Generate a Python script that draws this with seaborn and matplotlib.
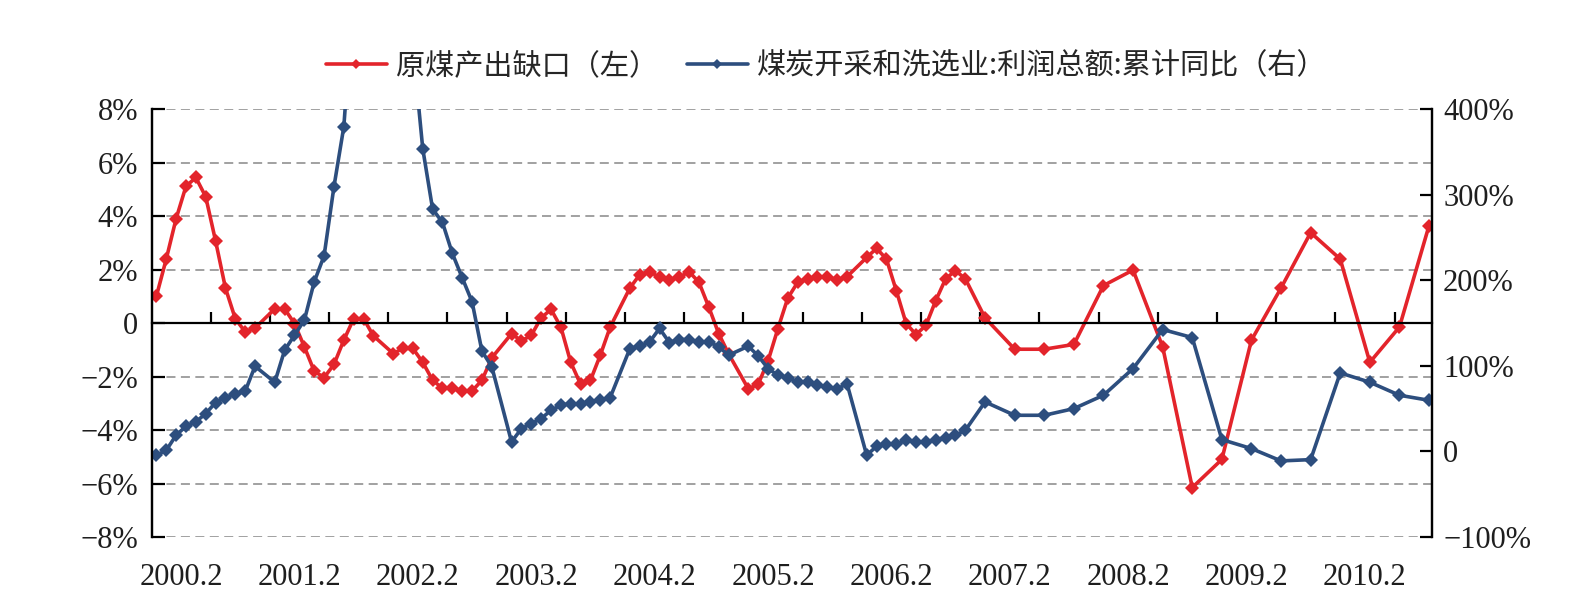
import numpy as np
import pandas as pd
import matplotlib
matplotlib.use("Agg")
import matplotlib.pyplot as plt
import seaborn as sns

# periods: monthly (no January) 2000-2006, quarterly 2007-2010
periods = [
    "2000.2", "2000.3", "2000.4", "2000.5", "2000.6", "2000.7", "2000.8", "2000.9", "2000.10", "2000.11", "2000.12",
    "2001.2", "2001.3", "2001.4", "2001.5", "2001.6", "2001.7", "2001.8", "2001.9", "2001.10", "2001.11", "2001.12",
    "2002.2", "2002.3", "2002.4", "2002.5", "2002.6", "2002.7", "2002.8", "2002.9", "2002.10", "2002.11", "2002.12",
    "2003.2", "2003.3", "2003.4", "2003.5", "2003.6", "2003.7", "2003.8", "2003.9", "2003.10", "2003.11", "2003.12",
    "2004.2", "2004.3", "2004.4", "2004.5", "2004.6", "2004.7", "2004.8", "2004.9", "2004.10", "2004.11", "2004.12",
    "2005.2", "2005.3", "2005.4", "2005.5", "2005.6", "2005.7", "2005.8", "2005.9", "2005.10", "2005.11", "2005.12",
    "2006.2", "2006.3", "2006.4", "2006.5", "2006.6", "2006.7", "2006.8", "2006.9", "2006.10", "2006.11", "2006.12",
    "2007.2", "2007.5", "2007.8", "2007.11",
    "2008.2", "2008.5", "2008.8", "2008.11",
    "2009.2", "2009.5", "2009.8", "2009.11",
    "2010.2", "2010.5", "2010.8", "2010.11",
]

# 原煤产出缺口 (%), left axis
gap = [
    1.0, 2.39, 3.90, 5.11, 5.44, 4.72, 3.07, 1.31, 0.16, -0.33, -0.19,
    0.53, 0.53, -0.02, -0.89, -1.80, -2.04, -1.55, -0.64, 0.16, 0.16, -0.48,
    -1.14, -0.95, -0.95, -1.47, -2.14, -2.44, -2.44, -2.54, -2.54, -2.14, -1.30,
    -0.40, -0.67, -0.46, 0.19, 0.51, -0.15, -1.47, -2.29, -2.14, -1.20, -0.15,
    1.31, 1.81, 1.92, 1.71, 1.61, 1.71, 1.92, 1.52, 0.59, -0.40, -1.15,
    -2.46, -2.29, -1.42, -0.21, 0.93, 1.52, 1.65, 1.71, 1.73, 1.61, 1.73,
    2.45, 2.79, 2.39, 1.21, -0.02, -0.43, -0.09, 0.84, 1.65, 1.96, 1.65,
    0.19, -0.98, -0.98, -0.80,
    1.40, 1.98, -0.89, -6.15,
    -5.10, -0.64, 1.31, 3.38,
    2.39, -1.47, -0.15, 3.64,
]

# 煤炭开采和洗选业:利润总额:累计同比 (%), right axis
profit = [
    -4.5, 1.3, 18.9, 29.4, 34.5, 44.2, 57.1, 62.9, 66.8, 70.3, 99.5,
    80.8, 118.2, 135.8, 153.3, 198.1, 228.5, 309.2, 379.3, 540, 620, 660,
    640, 560, 473, 353.7, 283.1, 267.5, 231.3, 202.8, 174.8, 117.1, 98.8,
    11.1, 26.6, 32.5, 38.3, 48.1, 53.9, 55.9, 55.1, 57.8, 59.8, 62.9,
    120.2, 122.9, 128.0, 143.6, 127.2, 130.7, 130.7, 128.0, 128.0, 122.2, 112.4,
    122.9, 111.6, 96.8, 89.0, 86.3, 80.8, 80.8, 77.3, 75.4, 72.7, 79.3,
    -4.5, 6.0, 8.3, 8.3, 13.0, 11.1, 11.1, 13.8, 16.1, 18.9, 24.7,
    57.8, 42.2, 42.2, 50.0,
    65.6, 96.8, 142.4, 133.0,
    13.8, 3.3, -11.1, -9.6,
    91.7, 80.8, 65.6, 59.7,
]

year_labels = ["2000.2", "2001.2", "2002.2", "2003.2", "2004.2", "2005.2",
               "2006.2", "2007.2", "2008.2", "2009.2", "2010.2"]
left_ticks = [-8, -6, -4, -2, 0, 2, 4, 6, 8]
right_ticks = [-100, 0, 100, 200, 300, 400]

red = "#E3242B"
blue = "#2D4E7E"


def month_index(p):
    y, m = p.split(".")
    return (int(y) - 2000) * 12 + int(m) - 2


df = pd.DataFrame({"period": periods, "gap": gap, "profit": profit})
df["t"] = df["period"].map(month_index)

sns.set_theme(style="white")
plt.rcParams["font.family"] = ["Liberation Serif", "DejaVu Sans"]

fig = plt.figure(figsize=(15.86, 6.11), dpi=100)
ax = fig.add_axes([0.0958, 0.1211, 0.8071, 0.7005])
ax2 = ax.twinx()

sns.lineplot(data=df, x="t", y="gap", ax=ax, color=red, lw=2.6,
             marker="D", markersize=7.5, markeredgewidth=0, label="原煤产出缺口（左）",
             legend=False)
sns.lineplot(data=df, x="t", y="profit", ax=ax2, color=blue, lw=2.6,
             marker="D", markersize=7.5, markeredgewidth=0,
             label="煤炭开采和洗选业:利润总额:累计同比（右）", legend=False)

ax.set_xlim(-0.45, 129.3)
ax.set_ylim(-8, 8)
ax2.set_ylim(-100, 400)

# grid
for v in left_ticks:
    if v != 0:
        ax.axhline(v, color="#9A9A9A", lw=1.3, ls=(0, (5, 3)), zorder=0)

for a in (ax, ax2):
    a.spines["top"].set_visible(False)
    a.spines["left"].set_linewidth(1.6)
    a.spines["right"].set_linewidth(1.6)
    for s in ("left", "right", "bottom", "top"):
        a.spines[s].set_color("black")
ax2.spines["bottom"].set_visible(False)

ax.spines["bottom"].set_position(("data", 0))
ax.spines["bottom"].set_linewidth(1.6)
ax.set_xticks(np.arange(5.5, 129, 6))
ax.tick_params(axis="x", direction="in", length=8, width=1.6, labelbottom=False,
               bottom=True, color="black")

ax.set_yticks(left_ticks)
ax.set_yticklabels(["0" if v == 0 else f"{v}%".replace("-", "\u2212") for v in left_ticks])
ax.tick_params(axis="y", direction="in", length=9, width=1.6, labelsize=22, pad=10,
               left=True, color="black", labelcolor="#1E1E1E")
ax2.set_yticks(right_ticks)
ax2.set_yticklabels(["0" if v == 0 else f"{v}%".replace("-", "\u2212") for v in right_ticks])
ax2.tick_params(axis="y", direction="in", length=9, width=1.6, labelsize=22, pad=8,
                right=True, color="black", labelcolor="#1E1E1E")
ax.set_xlabel("")
ax.set_ylabel("")
ax2.set_ylabel("")

# year labels along the bottom
sec = ax.secondary_xaxis("bottom")
sec.set_xticks(np.arange(2.5, 125, 12), year_labels)
sec.tick_params(length=0, labelsize=22, pad=19, labelcolor="#1E1E1E")
sec.spines["bottom"].set_visible(False)

h1, l1 = ax.get_legend_handles_labels()
h2, l2 = ax2.get_legend_handles_labels()
fig.legend(h1 + h2, l1 + l2, loc="center", bbox_to_anchor=(826 / 1586, 1 - 66 / 611),
           ncol=2, frameon=False, handlelength=2.1, handletextpad=0.3, columnspacing=1.0,
           markerscale=0.65, prop={"family": ["Noto Sans CJK SC", "DejaVu Sans"], "size": 21})

fig.savefig("out.png", dpi=100)
